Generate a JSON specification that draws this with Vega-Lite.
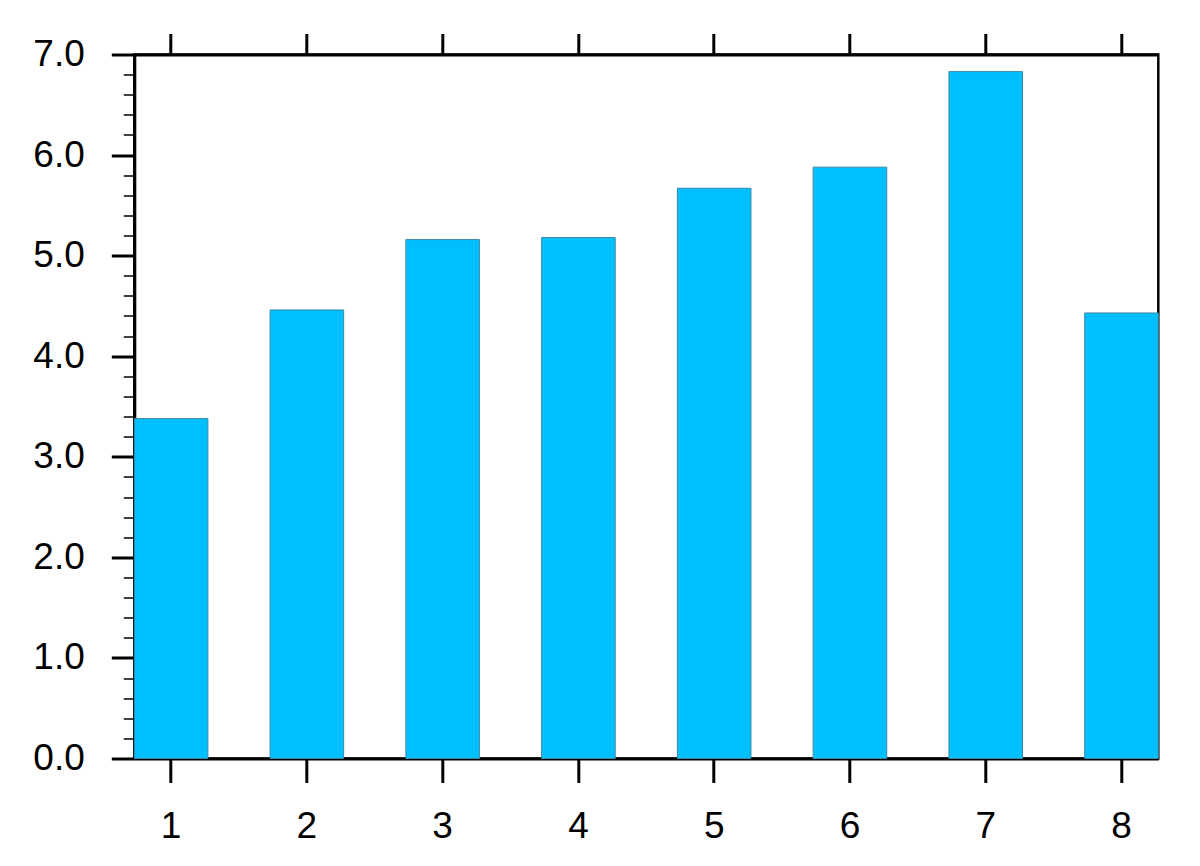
{
  "$schema": "https://vega.github.io/schema/vega-lite/v6.json",
  "width": 1024,
  "height": 704,
  "autosize": {"type": "none"},
  "padding": {"left": 134.3, "top": 54.5, "right": 41.7, "bottom": 107.5},
  "background": "white",
  "config": {
    "view": {"stroke": "black", "strokeWidth": 2.5},
    "axis": {
      "labelFont": "Liberation Sans",
      "labelFontSize": 37,
      "labelColor": "black",
      "domainColor": "black",
      "tickColor": "black",
      "grid": false,
      "title": null,
      "zindex": 1
    }
  },
  "data": {
    "values": [
      {"x": "1", "v": 3.38},
      {"x": "2", "v": 4.46},
      {"x": "3", "v": 5.16},
      {"x": "4", "v": 5.18},
      {"x": "5", "v": 5.67},
      {"x": "6", "v": 5.88},
      {"x": "7", "v": 6.83},
      {"x": "8", "v": 4.43}
    ]
  },
  "layer": [
    {
      "mark": {"type": "bar", "color": "#00BFFF", "stroke": "#3a8aa6", "strokeWidth": 1},
      "encoding": {
        "x": {
          "field": "x", "type": "ordinal",
          "scale": {"paddingInner": 0.458, "paddingOuter": 0},
          "axis": {"orient": "bottom", "labelAngle": 0, "domainWidth": 3, "tickWidth": 3, "tickSize": 24, "labelPadding": 26}
        },
        "y": {
          "field": "v", "type": "quantitative",
          "scale": {"domain": [0, 7], "nice": false, "zero": true},
          "axis": {"orient": "left", "values": [0, 1, 2, 3, 4, 5, 6, 7], "format": ".1f", "domainWidth": 3, "tickWidth": 3, "tickSize": 23, "labelPadding": 27}
        }
      }
    },
    {
      "mark": {"type": "bar", "opacity": 0},
      "encoding": {
        "x": {
          "field": "x", "type": "ordinal",
          "axis": {"orient": "top", "labels": false, "domainWidth": 3, "tickWidth": 3, "tickSize": 21}
        },
        "y": {
          "field": "v", "type": "quantitative",
          "axis": {"orient": "left", "labels": false, "domain": false, "tickWidth": 1.5, "tickSize": 11,
            "values": [0.2, 0.4, 0.6, 0.8, 1.2, 1.4, 1.6, 1.8, 2.2, 2.4, 2.6, 2.8, 3.2, 3.4, 3.6, 3.8, 4.2, 4.4, 4.6, 4.8, 5.2, 5.4, 5.6, 5.8, 6.2, 6.4, 6.6, 6.8]}
        }
      }
    }
  ],
  "resolve": {"axis": {"x": "independent", "y": "independent"}}
}
